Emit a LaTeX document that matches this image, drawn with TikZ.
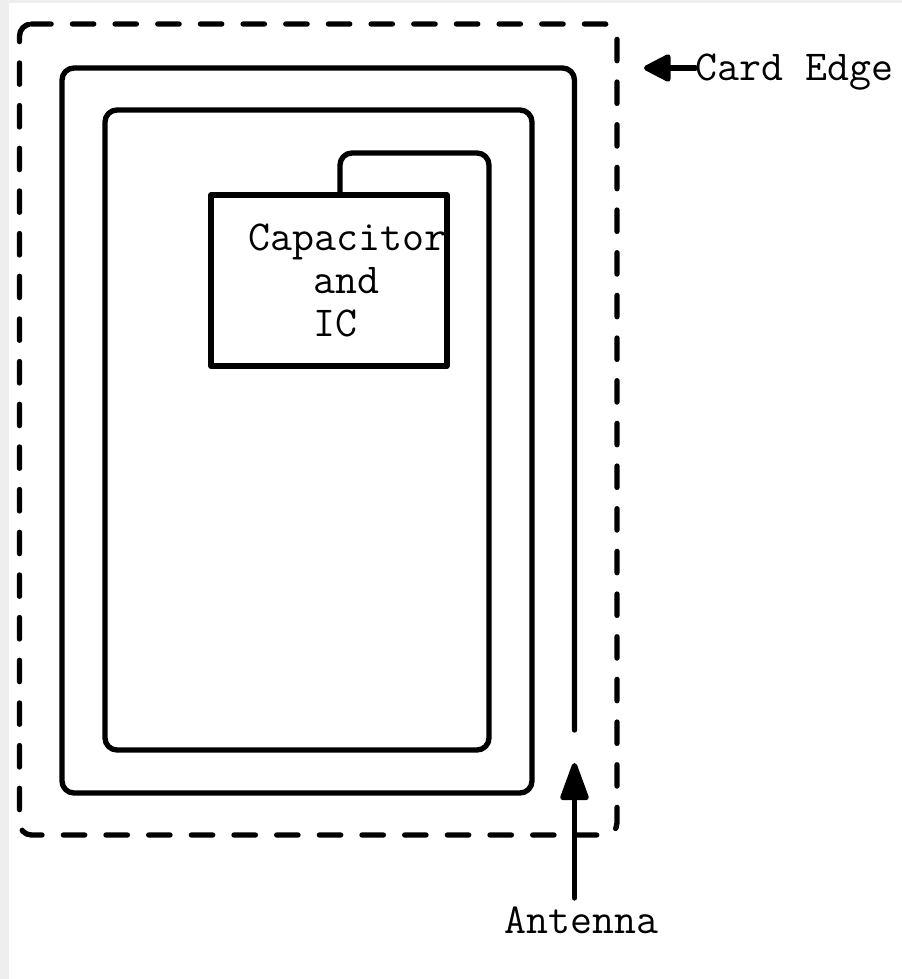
\documentclass[tikz,border=0pt]{standalone}
\usepackage{xcolor}
\usetikzlibrary{arrows.meta, positioning}
\definecolor{pagegray}{HTML}{EEEEEE}

\begin{document}
\begin{tikzpicture}[
    x=0.75pt,
    y=-0.75pt,
    % Card and antenna lines
    cardedge/.style={draw=black, line width=4pt, line cap=round, line join=round, rounded corners=9pt, dash pattern=on 16pt off 16pt, dash phase=1.3pt},
    antennaline/.style={draw=black, line width=4pt, line cap=round, line join=round, rounded corners=9pt},
    % Chip and labels
    chipbox/.style={rectangle, draw=black, line width=4pt, line join=round, inner sep=0pt, minimum width=177pt, minimum height=128.25pt},
    label/.style={inner sep=0pt, anchor=base west, font=\fontsize{32}{32}\selectfont\ttfamily},
    % Pointers
    pointer/.style={draw=black, line width=4pt, line cap=round},
    sidetip/.style={pointer, -{Triangle[length=22.5pt, width=22pt, round=false]}},
    uptip/.style={pointer, -{Triangle[length=32pt, width=22pt, round=false]}}
]
    % Page
    \useasboundingbox (0,0) rectangle (902,979);
    \fill[pagegray] (0,0) rectangle (902,979);
    \fill[white] (9,3) rectangle (902,979);

    % Card Edge
    \draw[cardedge] (19.5,24) -- (617,24) -- (617,835) -- (19.5,835) -- cycle;

    % Antenna Coil
    \draw[antennaline] (574.5,730) -- (574.5,68) -- (62,68) -- (62,793) -- (532,793) -- (532,110) -- (105,110) -- (105,750) -- (489,750) -- (489,153) -- (340,153) -- (340,195);

    % Chip
    \node[chipbox] (chip) at (329,280.5) {};
    \node[label] (chiptop) at (248,250) {Capacitor};
    \node[label] (chipmid) at (313,293) {and};
    \node[label] (chipbot) at (313,336) {IC};

    % Labels
    \node[label] (cardlabel) at (695.5,80) {Card Edge};
    \node[label] (antennalabel) at (504,933) {Antenna};

    % Pointers
    \coordinate (cardtip) at (644,68);
    \coordinate (antennatip) at (574.5,763);
    \coordinate (antennafoot) at (574.5,898);
    \draw[sidetip] (cardlabel.west |- cardtip) -- (cardtip);
    \draw[uptip] (antennafoot) -- (antennatip);
\end{tikzpicture}
\end{document}
